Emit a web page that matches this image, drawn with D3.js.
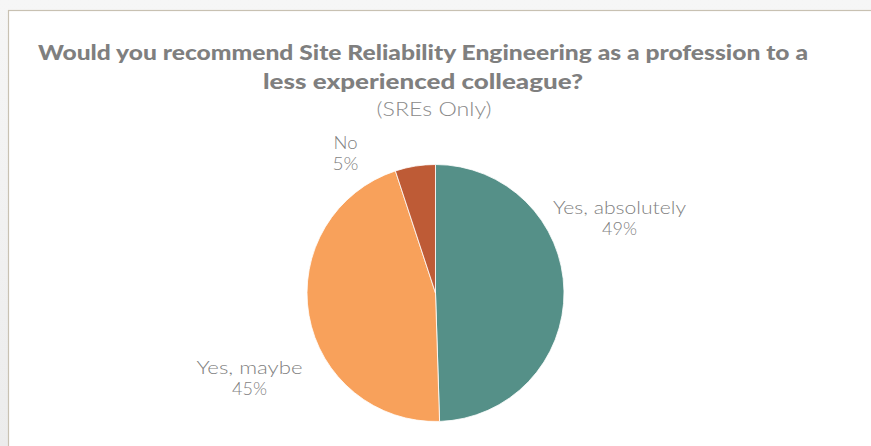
<!DOCTYPE html>
<html>
<head>
<meta charset="utf-8">
<script src="https://cdn.jsdelivr.net/npm/d3@7"></script>
<style>
  html, body { margin: 0; padding: 0; background: #ffffff; }
  svg { display: block; }
</style>
</head>
<body>
<svg id="chart" width="871" height="446"></svg>
<script>
// Survey answers (share of respondents, %)
const categories = ["Yes, absolutely", "Yes, maybe", "No"];
const values = [49, 45, 5];
const valueLabels = ["49%", "45%", "5%"];
const colors = ["#559088", "#F8A15B", "#BE5B36"];

const titleLines = [
  "Would you recommend Site Reliability Engineering as a profession to a",
  "less experienced colleague?"
];
const subtitle = "(SREs Only)";

const svg = d3.select("#chart");
const W = 871, H = 446;

// window background above the chart frame
const bg = svg.append("defs").append("linearGradient")
  .attr("id", "topfade").attr("x1", 0).attr("y1", 0).attr("x2", 0).attr("y2", 1);
bg.append("stop").attr("offset", 0).attr("stop-color", "#f6f6f6");
bg.append("stop").attr("offset", 1).attr("stop-color", "#ececec");
svg.append("rect").attr("x", 0).attr("y", 0).attr("width", W).attr("height", H).attr("fill", "url(#topfade)");

// chart frame
svg.append("rect")
  .attr("x", 8.5).attr("y", 10.5).attr("width", W + 20).attr("height", H + 20)
  .attr("fill", "#ffffff").attr("stroke", "#c8c1b2").attr("stroke-width", 1.2);

const font = "Lato, 'Noto Sans', sans-serif";

// title
const titleY = [60, 89];
const titleW = [770, 320];
titleLines.forEach((t, i) => {
  svg.append("text")
    .attr("x", 423).attr("y", titleY[i])
    .attr("text-anchor", "middle")
    .attr("font-family", font).attr("font-weight", 900).attr("font-size", 21)
    .attr("fill", "#7f7f7f")
    .attr("textLength", titleW[i]).attr("lengthAdjust", "spacingAndGlyphs")
    .text(t);
});
svg.append("text")
  .attr("x", 434).attr("y", 116)
  .attr("text-anchor", "middle")
  .attr("font-family", font).attr("font-weight", 300).attr("font-size", 19)
  .attr("fill", "#8a8a8a")
  .attr("textLength", 115).attr("lengthAdjust", "spacingAndGlyphs")
  .text(subtitle);

// pie
const cx = 435.5, cy = 293, r = 128.5;
const pie = d3.pie().sort(null).value(d => d)(values);
const arc = d3.arc().innerRadius(0).outerRadius(r);
const g = svg.append("g").attr("transform", `translate(${cx},${cy})`);
g.selectAll("path").data(pie).join("path")
  .attr("d", arc)
  .attr("fill", (d, i) => colors[i])
  .attr("stroke", "#ffffff").attr("stroke-width", 0.8);

// data labels (category + percentage), placed beside each slice
const labelPos = [
  { dx: 184, dy: -79, w1: 133, w2: 35 },
  { dx: -186, dy: 81, w1: 106, w2: 35 },
  { dx: -90, dy: -144, w1: 24, w2: 26 }
];
pie.forEach((d, i) => {
  const p = labelPos[i];
  const t = svg.append("text")
    .attr("text-anchor", "middle")
    .attr("font-family", font).attr("font-weight", 300).attr("font-size", 18)
    .attr("fill", "#7f7f7f");
  t.append("tspan").attr("x", cx + p.dx).attr("y", cy + p.dy)
    .attr("textLength", p.w1).attr("lengthAdjust", "spacingAndGlyphs")
    .text(categories[i]);
  t.append("tspan").attr("x", cx + p.dx).attr("y", cy + p.dy + 21)
    .attr("textLength", p.w2).attr("lengthAdjust", "spacingAndGlyphs")
    .text(valueLabels[i]);
});
</script>
</body>
</html>
